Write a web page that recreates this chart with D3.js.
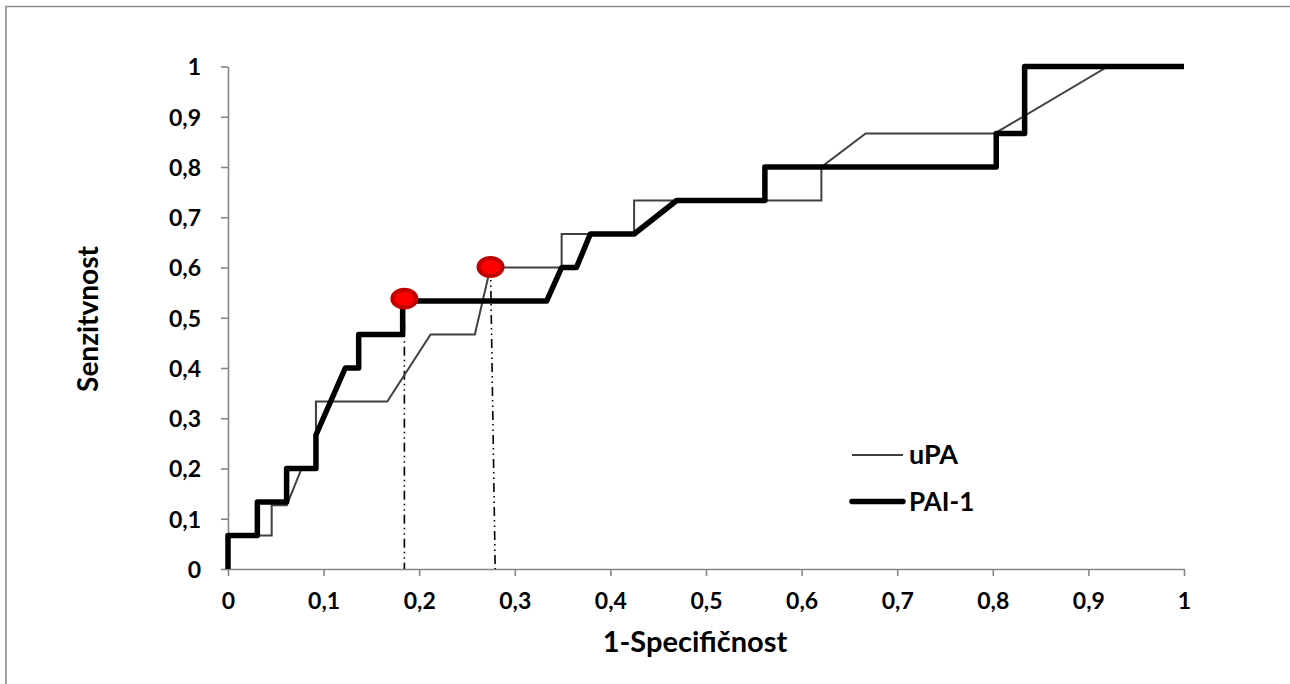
<!DOCTYPE html>
<html><head><meta charset="utf-8">
<script src="https://cdn.jsdelivr.net/npm/d3@7"></script>
<style>html,body{margin:0;padding:0;background:#fff;overflow:hidden;}svg{display:block;}</style>
</head><body>
<svg id="chart" width="1290" height="684"></svg>
<script>
const xTicks = [0,0.1,0.2,0.3,0.4,0.5,0.6,0.7,0.8,0.9,1];
const yTicks = [0,0.1,0.2,0.3,0.4,0.5,0.6,0.7,0.8,0.9,1];
const uPA_x = [0,0,0.0457,0.0457,0.0615,0.077,0.092,0.092,0.1666,0.2119,0.2582,0.2745,0.349,0.349,0.4248,0.4248,0.6207,0.6207,0.667,0.802,0.9204,1];
const uPA_y = [0,0.0667,0.0667,0.127,0.127,0.2,0.2,0.3333,0.3333,0.4667,0.4667,0.6,0.6,0.6667,0.6667,0.7333,0.7333,0.8,0.8667,0.8667,1,1];
const pai_x = [0,0,0.0307,0.0307,0.0613,0.0613,0.092,0.092,0.1227,0.1367,0.1367,0.1827,0.1827,0.3333,0.349,0.3645,0.379,0.4248,0.4693,0.5616,0.5616,0.8036,0.8036,0.8333,0.8333,1];
const pai_y = [0,0.0667,0.0667,0.1333,0.1333,0.2,0.2,0.2667,0.4,0.4,0.4667,0.4667,0.5333,0.5333,0.6,0.6,0.6667,0.6667,0.7333,0.7333,0.8,0.8,0.8667,0.8667,1,1];
const cutX = [0.1845, 0.2746];
const cutY = [0.538, 0.601];
const cutXBottom = [0.1845, 0.2795];
const seriesNames = ["uPA","PAI-1"];
const fmt = d => String(d).replace('.', ',');

const svg = d3.select('#chart');
const FONT = 'Lato, "Open Sans", sans-serif';
// outer frame: only top and left edges are visible in the picture
svg.append('path').attr('d','M6,690V6.5H1296').attr('fill','none').attr('stroke','#8c8c8c').attr('stroke-width',1.6);

const x = d3.scaleLinear().domain([0,1]).range([228,1184]);
const y = d3.scaleLinear().domain([0,1]).range([569,66.5]);

const gx = svg.append('g').attr('transform','translate(0,569)')
  .call(d3.axisBottom(x).tickValues(xTicks).tickFormat(fmt).tickSize(7).tickSizeOuter(0).tickPadding(17));
const gy = svg.append('g').attr('transform','translate(228,0)')
  .call(d3.axisLeft(y).tickValues(yTicks).tickFormat(fmt).tickSize(7).tickSizeOuter(0).tickPadding(20));
[gx,gy].forEach(g=>{
  g.select('.domain').attr('stroke','#868686').attr('stroke-width',1.6);
  g.selectAll('.tick line').attr('stroke','#868686').attr('stroke-width',1.6);
  g.selectAll('.tick text').attr('fill','#000').style('font-family',FONT).style('font-weight','bold').style('font-size','23px');
});
gy.selectAll('.tick text').attr('dy','0.36em');

const line = d3.line().x(d=>x(d[0])).y(d=>y(d[1]));
const uPA = uPA_x.map((v,i)=>[v,uPA_y[i]]);
const pai = pai_x.map((v,i)=>[v,pai_y[i]]);

cutX.forEach((cx,i)=>{
  svg.append('line').attr('x1',x(cx)).attr('y1',y(cutY[i])).attr('x2',x(cutXBottom[i])).attr('y2',y(0))
    .attr('stroke','#000').attr('stroke-width',1.6).attr('stroke-dasharray','9,4,1.5,4,1.5,4');
});

svg.append('path').datum(uPA).attr('d',line).attr('fill','none').attr('stroke','#404040').attr('stroke-width',2);
svg.append('path').datum(pai).attr('d',line).attr('fill','none').attr('stroke','#000').attr('stroke-width',5.5).attr('stroke-linejoin','round');

cutX.forEach((cx,i)=>{
  svg.append('ellipse').attr('cx',x(cx)).attr('cy',y(cutY[i])).attr('rx',12).attr('ry',9)
    .attr('fill','#ff0000').attr('stroke','#c00000').attr('stroke-width',4);
});

const lg = svg.append('g');
[[455,2,'#404040',27],[501.5,5.5,'#000',26]].forEach((s,i)=>{
  lg.append('line').attr('x1',852).attr('x2',903).attr('y1',s[0]).attr('y2',s[0])
    .attr('stroke',s[2]).attr('stroke-width',s[1]).attr('stroke-linecap',i?'round':'butt');
  lg.append('text').attr('x',909).attr('y',s[0]+9).text(seriesNames[i])
    .style('font-family',FONT).style('font-weight','bold').style('font-size',s[3]+'px');
});

svg.append('text').attr('x',695).attr('y',652).attr('text-anchor','middle').text('1-Specifičnost')
  .style('font-family',FONT).style('font-weight','bold').style('font-size','29px');
svg.append('text').attr('transform','translate(98,319) rotate(-90)').attr('text-anchor','middle').text('Senzitvnost')
  .style('font-family',FONT).style('font-weight','bold').style('font-size','28px');
</script>
</body></html>
